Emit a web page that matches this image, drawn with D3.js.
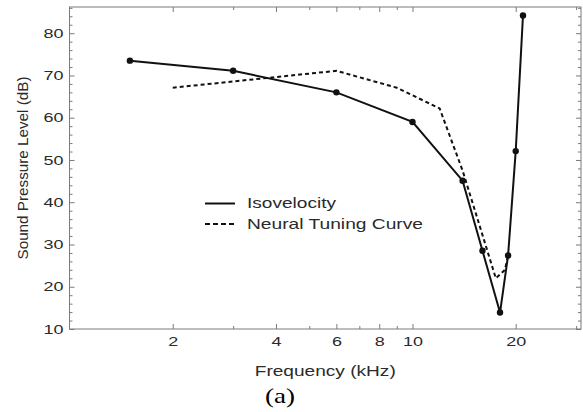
<!DOCTYPE html>
<html>
<head>
<meta charset="utf-8">
<script src="https://cdn.jsdelivr.net/npm/d3@7"></script>
<style>
	body { margin: 0; background: #fff; }
	svg { display: block; }
	text { font-family: "Liberation Sans", Arial, Helvetica, sans-serif; fill: #2a2a2a; }
</style>
</head>
<body>
<svg id="chart"></svg>
<script>
	// values
	const isoFreq = [1.5, 3, 6, 10, 14, 16, 18, 19, 20, 21];
	const isoLevel = [73.5, 71.1, 66.0, 59.0, 45.1, 28.5, 13.9, 27.4, 52.1, 84.2];
	const tuningFreq = [2, 6, 9, 12, 14, 17.5, 18.6, 19];
	const tuningLevel = [67.1, 71.1, 67.1, 62.2, 47.5, 22.0, 24.0, 27.4];
	const xTicks = [2, 4, 6, 8, 10, 20];
	const xMinor = [3, 5, 7, 9, 30];
	const yTicks = [10, 20, 30, 40, 50, 60, 70, 80];
	const yMinor = d3.range(12, 87, 2).filter(v => v % 10 != 0);
	const seriesNames = ['Isovelocity', 'Neural Tuning Curve'];

	const width = 583, height = 412;
	const plotLeft = 69.5, plotRight = 581, plotTop = 7, plotBottom = 329;

	const svg = d3.select('#chart').attr('width', width).attr('height', height);

	const x = d3.scaleLog().domain([1, 31]).range([plotLeft, plotRight]);
	const y = d3.scaleLinear().domain([10, 86.2]).range([plotBottom, plotTop]);

	const frame = '#7a7a7a';

	// ticks (all pointing inward)
	function styleAxis(g) {
		g.select('.domain').remove();
		g.selectAll('.tick line').attr('stroke', frame);
		g.selectAll('.tick text').attr('font-size', 13)
			.attr('textLength', d => String(d).length * 10)
			.attr('lengthAdjust', 'spacingAndGlyphs');
	}

	svg.append('g').attr('transform', `translate(0,${plotBottom})`)
		.call(d3.axisBottom(x).tickValues(xTicks).tickFormat(d3.format('d')).tickSize(-5).tickPadding(7.5))
		.call(styleAxis);
	svg.append('g').attr('transform', `translate(0,${plotBottom})`)
		.call(d3.axisBottom(x).tickValues(xMinor).tickFormat('').tickSize(-3))
		.call(styleAxis);
	svg.append('g').attr('transform', `translate(0,${plotTop})`)
		.call(d3.axisTop(x).tickValues(xTicks).tickFormat('').tickSize(-5))
		.call(styleAxis);
	svg.append('g').attr('transform', `translate(0,${plotTop})`)
		.call(d3.axisTop(x).tickValues(xMinor).tickFormat('').tickSize(-3))
		.call(styleAxis);

	svg.append('g').attr('transform', `translate(${plotLeft},0)`)
		.call(d3.axisLeft(y).tickValues(yTicks).tickSize(-5).tickPadding(6))
		.call(styleAxis);
	svg.append('g').attr('transform', `translate(${plotLeft},0)`)
		.call(d3.axisLeft(y).tickValues(yMinor).tickFormat('').tickSize(-3))
		.call(styleAxis);
	svg.append('g').attr('transform', `translate(${plotRight},0)`)
		.call(d3.axisRight(y).tickValues(yTicks).tickFormat('').tickSize(-5))
		.call(styleAxis);
	svg.append('g').attr('transform', `translate(${plotRight},0)`)
		.call(d3.axisRight(y).tickValues(yMinor).tickFormat('').tickSize(-3))
		.call(styleAxis);

	// frame
	svg.append('rect')
		.attr('x', plotLeft).attr('y', plotTop)
		.attr('width', plotRight - plotLeft).attr('height', plotBottom - plotTop)
		.attr('fill', 'none').attr('stroke', frame).attr('stroke-width', 1);

	const line = d3.line().x(d => x(d[0])).y(d => y(d[1]));
	const iso = isoFreq.map((f, i) => [f, isoLevel[i]]);
	const tuning = tuningFreq.map((f, i) => [f, tuningLevel[i]]);

	svg.append('path').datum(tuning)
		.attr('d', line).attr('fill', 'none')
		.attr('stroke', '#111').attr('stroke-width', 2)
		.attr('stroke-dasharray', '4,3');

	svg.append('path').datum(iso)
		.attr('d', line).attr('fill', 'none')
		.attr('stroke', '#111').attr('stroke-width', 2);

	svg.append('g').selectAll('circle')
		.data(iso)
		.enter().append('circle')
			.attr('cx', d => x(d[0]))
			.attr('cy', d => y(d[1]))
			.attr('r', 3.2)
			.attr('fill', '#111');

	// legend
	const legend = svg.append('g');
	const legendY = [203.5, 224];
	legend.selectAll('line')
		.data(seriesNames)
		.enter().append('line')
			.attr('x1', 205).attr('x2', 235)
			.attr('y1', (d, i) => legendY[i]).attr('y2', (d, i) => legendY[i])
			.attr('stroke', '#111').attr('stroke-width', 2)
			.attr('stroke-dasharray', (d, i) => i == 0 ? null : '5,3');
	legend.selectAll('text')
		.data(seriesNames)
		.enter().append('text')
			.attr('x', 247)
			.attr('y', (d, i) => legendY[i] + 4.5)
			.attr('font-size', 15)
			.attr('textLength', (d, i) => i == 0 ? 89 : 176)
			.attr('lengthAdjust', 'spacingAndGlyphs')
			.text(d => d);

	// titles
	svg.append('text')
		.attr('x', (plotLeft + plotRight) / 2).attr('y', 376)
		.attr('text-anchor', 'middle').attr('font-size', 15)
		.attr('textLength', 141).attr('lengthAdjust', 'spacingAndGlyphs')
		.text('Frequency (kHz)');

	svg.append('text')
		.attr('transform', `translate(27.5,${(plotTop + plotBottom) / 2}) rotate(-90)`)
		.attr('text-anchor', 'middle').attr('font-size', 14.5)
		.attr('textLength', 183).attr('lengthAdjust', 'spacingAndGlyphs')
		.text('Sound Pressure Level (dB)');

	svg.append('text')
		.attr('x', 280).attr('y', 403)
		.attr('text-anchor', 'middle')
		.style('font-family', '"Liberation Serif", "Times New Roman", serif')
		.style('fill', '#000')
		.attr('font-size', 22)
		.attr('textLength', 30).attr('lengthAdjust', 'spacingAndGlyphs')
		.text('(a)');
</script>
</body>
</html>
